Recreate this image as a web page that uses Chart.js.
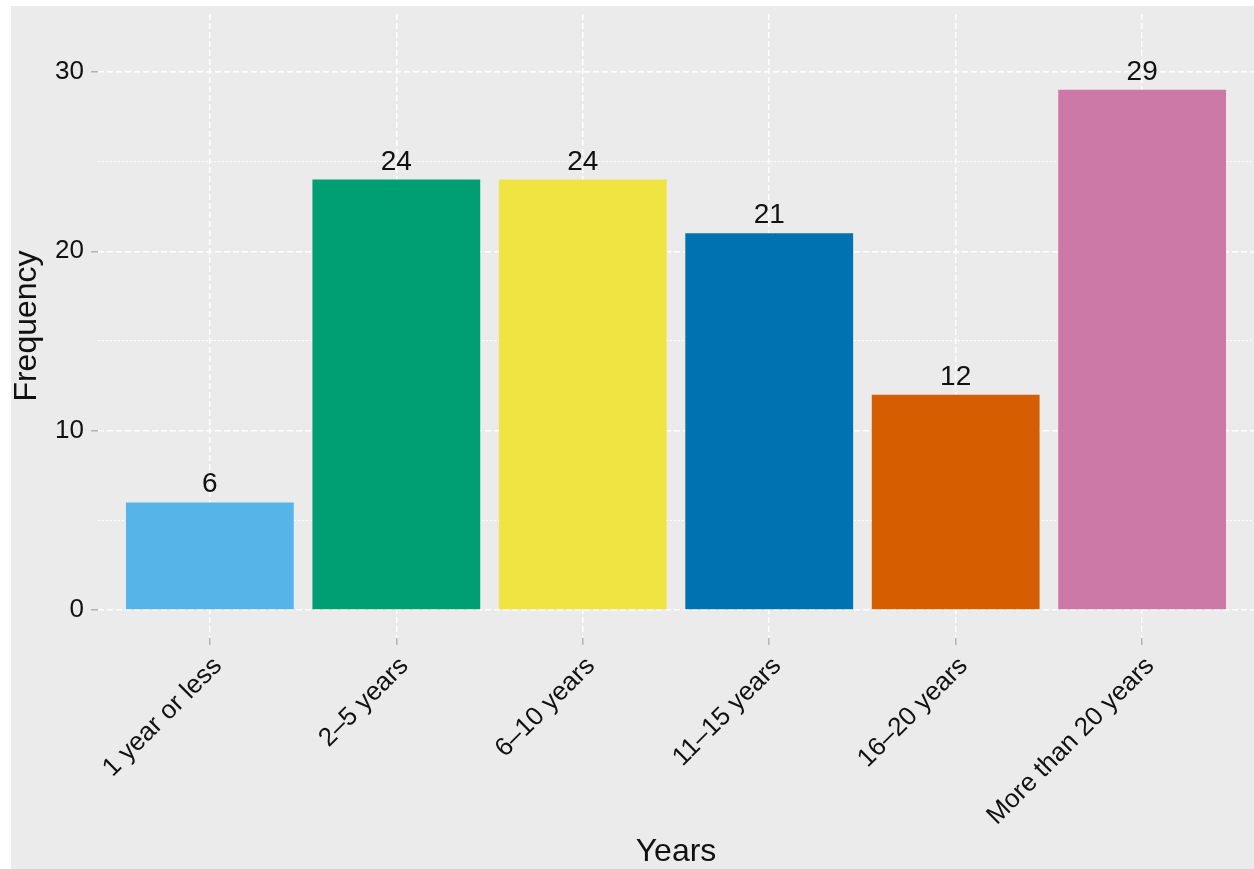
<!DOCTYPE html>
<html>
<head>
<meta charset="utf-8">
<script src="https://cdn.jsdelivr.net/npm/chart.js@4"></script>
<style>
html, body { margin: 0; padding: 0; background: #fff; }
#wrap { position: absolute; left: 11px; top: 6px; width: 1243px; height: 863px; background: #ebebeb; }
</style>
</head>
<body>
<div id="wrap"><canvas id="myChart"></canvas></div>
<script>
var categories = ["1 year or less", "2\u20135 years", "6\u201310 years", "11\u201315 years", "16\u201320 years", "More than 20 years"];
var frequency = [6, 24, 24, 21, 12, 29];
var bar_colors = ["#56B4E9", "#009E73", "#F0E442", "#0072B2", "#D55E00", "#CC79A7"];
var y_ticks = [0, 5, 10, 15, 20, 25, 30];
var y_min = -1.56;
var y_max = 33.23;

var font_family = '"Liberation Sans", Arial, sans-serif';
var text_color = '#111';

function is_major(ctx) {
    return ctx.tick && ctx.tick.value % 10 === 0;
}

// numbers on top of the bars
var valueLabels = {
    id: 'valueLabels',
    afterDatasetsDraw: function(chart) {
        var ctx = chart.ctx;
        var meta = chart.getDatasetMeta(0);
        ctx.save();
        ctx.font = '28px ' + font_family;
        ctx.fillStyle = text_color;
        ctx.textAlign = 'center';
        ctx.textBaseline = 'alphabetic';
        meta.data.forEach(function(bar, i) {
            ctx.fillText(frequency[i], bar.x, bar.y - 10);
        });
        ctx.restore();
    }
};

var points = [];
for (var i = 0; i < frequency.length; i++) {
    points.push({x: i, y: frequency[i]});
}

var ctx = document.getElementById("myChart").getContext("2d");
var myChart = new Chart(ctx, {
    type: 'bar',
    data: {
        datasets: [{
            data: points,
            backgroundColor: bar_colors,
            borderWidth: 0,
            barPercentage: 0.9,
            categoryPercentage: 1
        }]
    },
    options: {
        responsive: true,
        maintainAspectRatio: false,
        animation: false,
        layout: { padding: { top: 8, right: 0, left: 0, bottom: 0 } },
        plugins: {
            legend: { display: false },
            tooltip: { enabled: false }
        },
        scales: {
            x: {
                type: 'linear',
                min: -0.6,
                max: 5.6,
                offset: false,
                afterBuildTicks: function(scale) {
                    scale.ticks = categories.map(function(c, i) { return {value: i}; });
                },
                afterFit: function(scale) {
                    scale.height = 231;
                    scale.paddingLeft = 0;
                    scale.paddingRight = 0;
                },
                ticks: {
                    autoSkip: false,
                    minRotation: 45,
                    maxRotation: 45,
                    color: text_color,
                    font: { family: font_family, size: 26 },
                    padding: 6,
                    labelOffset: 8,
                    callback: function(v) { return categories[v]; }
                },
                grid: {
                    offset: false,
                    color: '#ffffff',
                    lineWidth: 1.5,
                    tickColor: '#b3b3b3',
                    tickLength: 7,
                    tickWidth: 1.5,
                    tickBorderDash: []
                },
                border: { display: false, dash: [6, 3] },
                title: {
                    display: true,
                    text: 'Years',
                    color: text_color,
                    font: { family: font_family, size: 32, lineHeight: 1 },
                    padding: { top: 0, bottom: 1 }
                }
            },
            y: {
                min: y_min,
                max: y_max,
                afterBuildTicks: function(scale) {
                    scale.ticks = y_ticks.map(function(v) { return {value: v}; });
                },
                afterFit: function(scale) {
                    scale.width = 87;
                    scale.paddingTop = 0;
                    scale.paddingBottom = 0;
                },
                ticks: {
                    color: text_color,
                    font: { family: font_family, size: 26 },
                    padding: 7,
                    callback: function(v) { return v % 10 === 0 ? v : ''; }
                },
                grid: {
                    color: '#ffffff',
                    lineWidth: function(c) { return is_major(c) ? 1.5 : 1; },
                    tickColor: function(c) { return is_major(c) ? '#b3b3b3' : 'rgba(0,0,0,0)'; },
                    tickLength: 7,
                    tickWidth: 1.5,
                    tickBorderDash: []
                },
                border: {
                    display: false,
                    dash: function(c) { return is_major(c) ? [6, 3] : [2, 2]; }
                },
                title: {
                    display: true,
                    text: 'Frequency',
                    color: text_color,
                    font: { family: font_family, size: 32, lineHeight: 1 },
                    padding: { top: 0, bottom: 0 }
                }
            }
        }
    },
    plugins: [valueLabels]
});
</script>
</body>
</html>
